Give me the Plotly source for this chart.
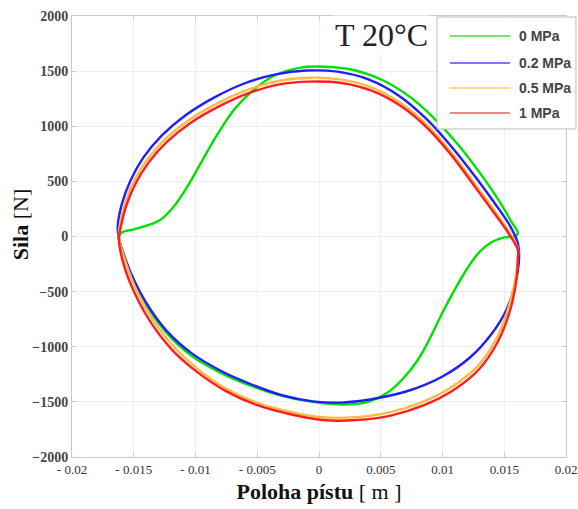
import plotly.graph_objects as go

# ---- data ----
labels = ["0 MPa", "0.2 MPa", "0.5 MPa", "1 MPa"]

x_0mpa = [-0.0162, -0.0159, -0.0150, -0.0139, -0.0128, -0.0118, -0.0107, -0.0095, -0.0082, -0.0068,
          -0.0053, -0.0036, -0.0016, 0.0005, 0.0028, 0.0052, 0.0075, 0.0096, 0.0115, 0.0132,
          0.0146, 0.0156, 0.0161,
          0.0158, 0.0150, 0.0140, 0.0130, 0.0120, 0.0110, 0.0100, 0.0090, 0.0080, 0.0068,
          0.0055, 0.0040, 0.0020, -0.0005, -0.0030, -0.0055, -0.0080, -0.0103, -0.0123, -0.0140,
          -0.0152, -0.0159, -0.0162]
y_0mpa = [0, 40, 65, 100, 155, 265, 445, 680, 930, 1160,
          1330, 1460, 1530, 1540, 1510, 1415, 1255, 1040, 800, 550,
          320, 130, 30,
          0, -8, -50, -140, -290, -480, -690, -920, -1120, -1290,
          -1420, -1500, -1525, -1500, -1445, -1355, -1235, -1085, -880, -620,
          -360, -140, 0]

x_02mpa = [-0.0162, -0.0163, -0.0160, -0.0153, -0.0142, -0.0127, -0.0108, -0.0085, -0.0060, -0.0035,
           -0.0010, 0.0015, 0.0040, 0.0065, 0.0088, 0.0108, 0.0127, 0.0143, 0.0155, 0.0161,
           0.0162, 0.0159, 0.0152, 0.0140, 0.0122, 0.0100, 0.0075, 0.0048, 0.0020, -0.0005,
           -0.0030, -0.0055, -0.0080, -0.0103, -0.0123, -0.0140, -0.0152, -0.0159, -0.0162]
y_02mpa = [-20, 80, 280, 500, 720, 920, 1100, 1260, 1390, 1470,
           1505, 1495, 1425, 1275, 1055, 805, 535, 290, 90, -60,
           -200, -420, -660, -880, -1100, -1270, -1390, -1465, -1505, -1495,
           -1440, -1340, -1215, -1060, -860, -600, -340, -130, -20]

x_05mpa = [-0.0162, -0.0161, -0.0157, -0.0150, -0.0139, -0.0124, -0.0105, -0.0082, -0.0058, -0.0033,
           -0.0008, 0.0017, 0.0042, 0.0066, 0.0089, 0.0108, 0.0126, 0.0142, 0.0154, 0.0161,
           0.0161, 0.0159, 0.0153, 0.0143, 0.0128, 0.0108, 0.0084, 0.0057, 0.0030, 0.0003,
           -0.0024, -0.0050, -0.0075, -0.0097, -0.0116, -0.0133, -0.0147, -0.0156, -0.0162]
y_05mpa = [0, 120, 300, 500, 700, 890, 1060, 1210, 1330, 1410,
           1440, 1425, 1355, 1210, 995, 750, 480, 235, 40, -110,
           -190, -380, -660, -940, -1180, -1360, -1500, -1595, -1638, -1640,
           -1588, -1508, -1382, -1212, -1018, -780, -505, -250, 0]

x_1mpa = [-0.0162, -0.0160, -0.0156, -0.0149, -0.0138, -0.0123, -0.0104, -0.0081, -0.0057, -0.0032,
          -0.0008, 0.0017, 0.0042, 0.0066, 0.0089, 0.0108, 0.0126, 0.0142, 0.0154, 0.0161,
          0.0161, 0.0160, 0.0155, 0.0145, 0.0130, 0.0110, 0.0085, 0.0058, 0.0030, 0.0003,
          -0.0024, -0.0050, -0.0075, -0.0098, -0.0118, -0.0135, -0.0149, -0.0158, -0.0162]
y_1mpa = [-20, 110, 280, 470, 670, 860, 1030, 1180, 1300, 1380,
          1405, 1395, 1325, 1185, 970, 725, 455, 210, 20, -120,
          -210, -380, -660, -950, -1200, -1385, -1530, -1625, -1665, -1665,
          -1610, -1530, -1405, -1235, -1040, -800, -520, -260, -20]

x_tickvals = [-0.02, -0.015, -0.01, -0.005, 0, 0.005, 0.01, 0.015, 0.02]
x_ticktext = ["- 0.02", "- 0.015", "- 0.01", "- 0.005", "0", "0.005", "0.01", "0.015", "0.02"]
y_tickvals = [-2000, -1500, -1000, -500, 0, 500, 1000, 1500, 2000]

colors = ["rgb(0,225,0)", "rgb(30,30,255)", "rgb(255,185,70)", "rgb(255,30,30)"]
legend_colors = ["rgb(110,235,110)", "rgb(120,120,255)", "rgb(255,215,150)", "rgb(255,130,130)"]
series = [(x_0mpa, y_0mpa), (x_02mpa, y_02mpa), (x_05mpa, y_05mpa), (x_1mpa, y_1mpa)]

fig = go.Figure()
for (xs, ys), name, col in zip(series, labels, colors):
    fig.add_trace(go.Scatter(x=xs, y=ys, mode="lines", name=name, showlegend=False,
                             line=dict(color=col, width=2.4, shape="spline", smoothing=1.0)))

axis_common = dict(showgrid=True, gridcolor="#efefef", gridwidth=1,
                   showline=True, linecolor="#c8c8c8", linewidth=1, mirror="ticks",
                   ticks="inside", ticklen=4, tickcolor="#c8c8c8", zeroline=False,
                   automargin=False)

fig.update_xaxes(range=[-0.02, 0.02], tickvals=x_tickvals, ticktext=x_ticktext,
                 tickfont=dict(family="Liberation Serif", size=13, color="#333"),
                 title=dict(text="<b>Poloha pístu</b> [ m ]", standoff=8,
                            font=dict(family="Liberation Serif", size=22, color="#111")),
                 **axis_common)
fig.update_yaxes(range=[-2000, 2000], tickvals=y_tickvals,
                 tickfont=dict(family="Liberation Serif", size=14, color="#444", weight="bold"),
                 **axis_common)

# y-axis title (placed as in the reference, slightly above the axis centre)
fig.add_annotation(text="<b>Sila</b> [N]", xref="paper", yref="paper", x=-0.105, y=0.528,
                   textangle=-90, showarrow=False, xanchor="center", yanchor="middle",
                   font=dict(family="Liberation Serif", size=22, color="#111"))

# title box
fig.add_annotation(text="T 20°C", xref="paper", yref="paper", x=0.626, y=0.957,
                   xanchor="center", yanchor="middle",
                   showarrow=False, bgcolor="white",
                   font=dict(family="Liberation Serif", size=32, color="#222"))

# manual legend (box, line samples, labels)
fig.add_shape(type="rect", xref="paper", yref="paper", x0=0.7389, x1=1.0202, y0=0.7438, y1=0.9977,
              line=dict(color="#bbbbbb", width=1), fillcolor="white", layer="above")
legend_rows = [0.9546, 0.8934, 0.8367, 0.7800]
for name, col, yy in zip(labels, legend_colors, legend_rows):
    fig.add_shape(type="line", xref="paper", yref="paper", x0=0.7652, x1=0.8866, y0=yy, y1=yy,
                  line=dict(color=col, width=2), layer="above")
    fig.add_annotation(text=name, xref="paper", yref="paper", x=0.9008, y=yy, xanchor="left",
                       yanchor="middle", showarrow=False,
                       font=dict(family="Liberation Sans", size=14, color="#444", weight="bold"))

fig.update_layout(
    width=578, height=509,
    margin=dict(l=72, r=12, t=16, b=52, autoexpand=False),
    paper_bgcolor="white", plot_bgcolor="white",
    showlegend=False,
)

# remove the default page margin so the figure fills the 578x509 window exactly
fig.write_html("out.html",
               config={"displayModeBar": False},
               post_script="document.body.style.margin='0px';document.body.style.overflow='hidden';")
